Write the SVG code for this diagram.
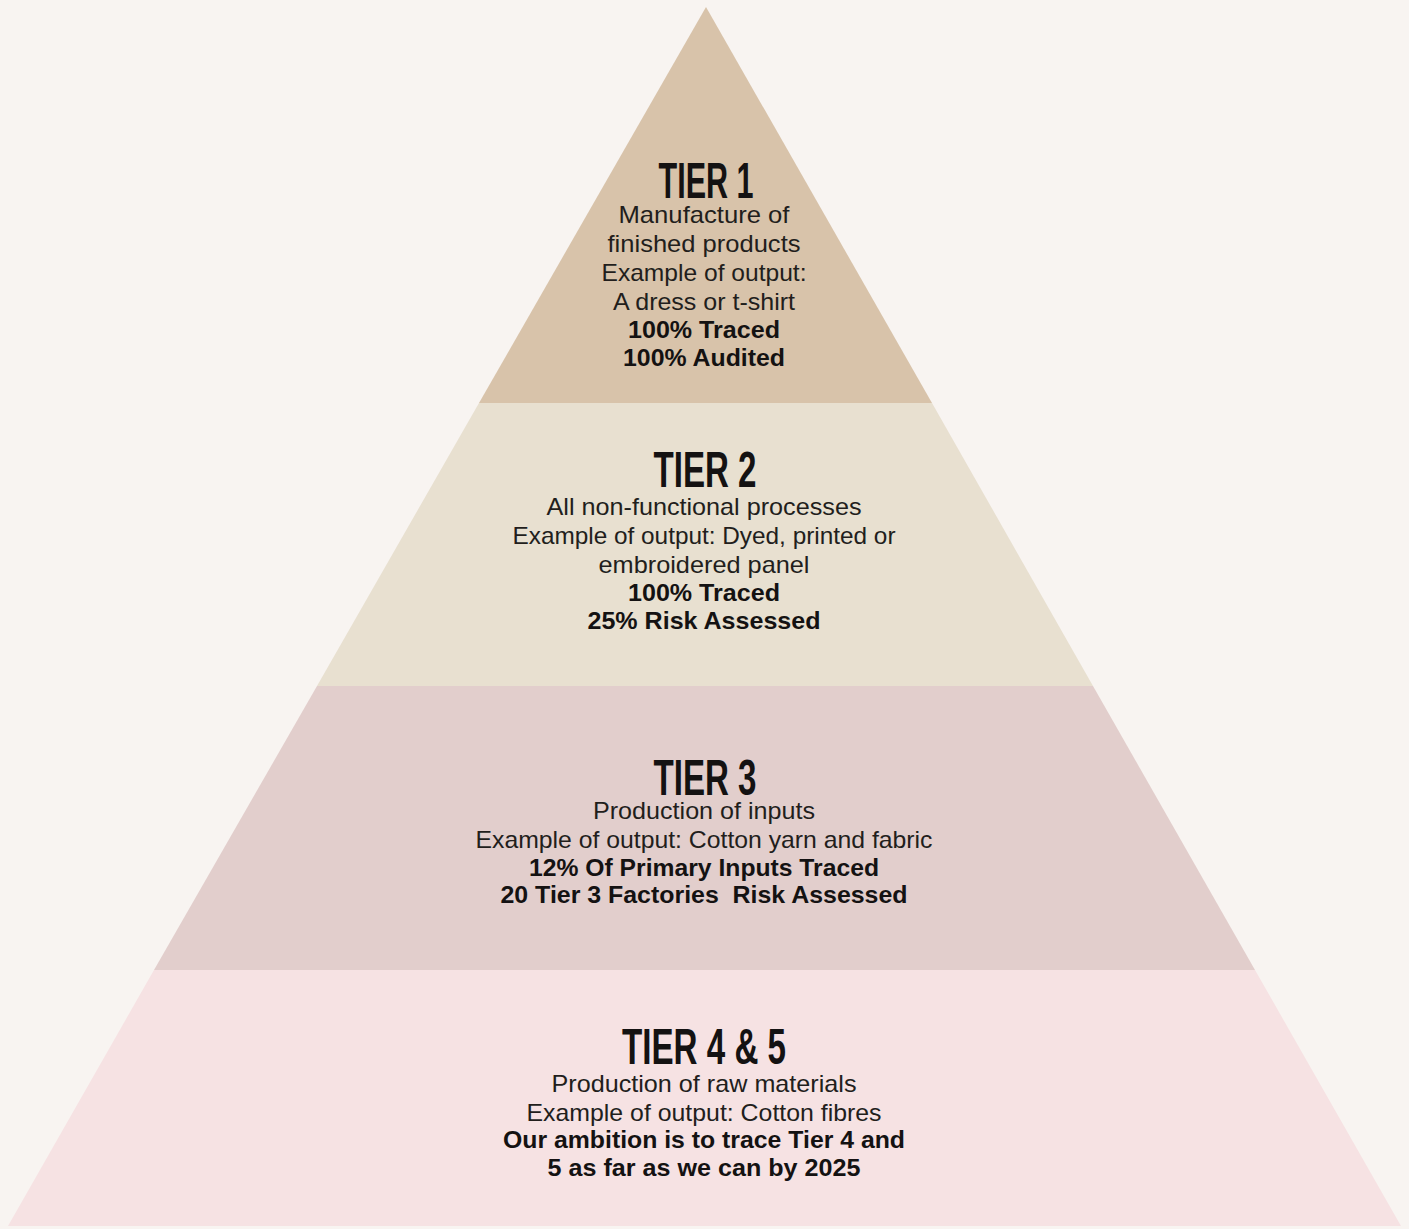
<svg xmlns="http://www.w3.org/2000/svg" width="1409" height="1229" viewBox="0 0 1409 1229">
  <style>
    .title { font-family: "Liberation Sans Narrow", "Liberation Sans", Arial, sans-serif; font-weight: bold; font-size: 50px; fill: #141212; text-anchor: middle; }
    .body { font-family: "Liberation Sans", Arial, sans-serif; font-size: 24px; fill: #221e1c; text-anchor: middle; }
    .bold { font-family: "Liberation Sans", Arial, sans-serif; font-weight: bold; font-size: 24px; fill: #141212; text-anchor: middle; }
  </style>
  <rect x="0" y="0" width="1409" height="1229" fill="#f8f4f1"/>

  <g id="tier1">
    <polygon points="706,7 932,403 479,403" fill="#d8c3aa"/>
    <text class="title" x="706" y="198" textLength="95" lengthAdjust="spacingAndGlyphs">TIER 1</text>
    <text class="body" x="704" y="223" textLength="171" lengthAdjust="spacingAndGlyphs">Manufacture of</text>
    <text class="body" x="704" y="252" textLength="193" lengthAdjust="spacingAndGlyphs">finished products</text>
    <text class="body" x="704" y="281" textLength="205" lengthAdjust="spacingAndGlyphs">Example of output:</text>
    <text class="body" x="704" y="310" textLength="182" lengthAdjust="spacingAndGlyphs">A dress or t-shirt</text>
    <text class="bold" x="704" y="338" textLength="152" lengthAdjust="spacingAndGlyphs">100% Traced</text>
    <text class="bold" x="704" y="366" textLength="162" lengthAdjust="spacingAndGlyphs">100% Audited</text>
  </g>

  <g id="tier2">
    <polygon points="479,403 932,403 1093,686 317,686" fill="#e8e0d0"/>
    <text class="title" x="705" y="487" textLength="103" lengthAdjust="spacingAndGlyphs">TIER 2</text>
    <text class="body" x="704" y="515" textLength="315" lengthAdjust="spacingAndGlyphs">All non-functional processes</text>
    <text class="body" x="704" y="544" textLength="383" lengthAdjust="spacingAndGlyphs">Example of output: Dyed, printed or</text>
    <text class="body" x="704" y="573" textLength="211" lengthAdjust="spacingAndGlyphs">embroidered panel</text>
    <text class="bold" x="704" y="601" textLength="152" lengthAdjust="spacingAndGlyphs">100% Traced</text>
    <text class="bold" x="704" y="629" textLength="233" lengthAdjust="spacingAndGlyphs">25% Risk Assessed</text>
  </g>

  <g id="tier3">
    <polygon points="317,686 1093,686 1255,970 154,970" fill="#e2cecc"/>
    <text class="title" x="705" y="795" textLength="103" lengthAdjust="spacingAndGlyphs">TIER 3</text>
    <text class="body" x="704" y="819" textLength="222" lengthAdjust="spacingAndGlyphs">Production of inputs</text>
    <text class="body" x="704" y="848" textLength="457" lengthAdjust="spacingAndGlyphs">Example of output: Cotton yarn and fabric</text>
    <text class="bold" x="704" y="876" textLength="350" lengthAdjust="spacingAndGlyphs">12% Of Primary Inputs Traced</text>
    <text class="bold" x="704" y="903" xml:space="preserve" textLength="407" lengthAdjust="spacingAndGlyphs">20 Tier 3 Factories  Risk Assessed</text>
  </g>

  <g id="tier4-5">
    <polygon points="154,970 1255,970 1401,1226 8,1226" fill="#f6e2e3"/>
    <text class="title" x="704" y="1064" textLength="164" lengthAdjust="spacingAndGlyphs">TIER 4 &amp; 5</text>
    <text class="body" x="704" y="1092" textLength="305" lengthAdjust="spacingAndGlyphs">Production of raw materials</text>
    <text class="body" x="704" y="1121" textLength="355" lengthAdjust="spacingAndGlyphs">Example of output: Cotton fibres</text>
    <text class="bold" x="704" y="1148" textLength="402" lengthAdjust="spacingAndGlyphs">Our ambition is to trace Tier 4 and</text>
    <text class="bold" x="704" y="1176" textLength="313" lengthAdjust="spacingAndGlyphs">5 as far as we can by 2025</text>
  </g>
</svg>
